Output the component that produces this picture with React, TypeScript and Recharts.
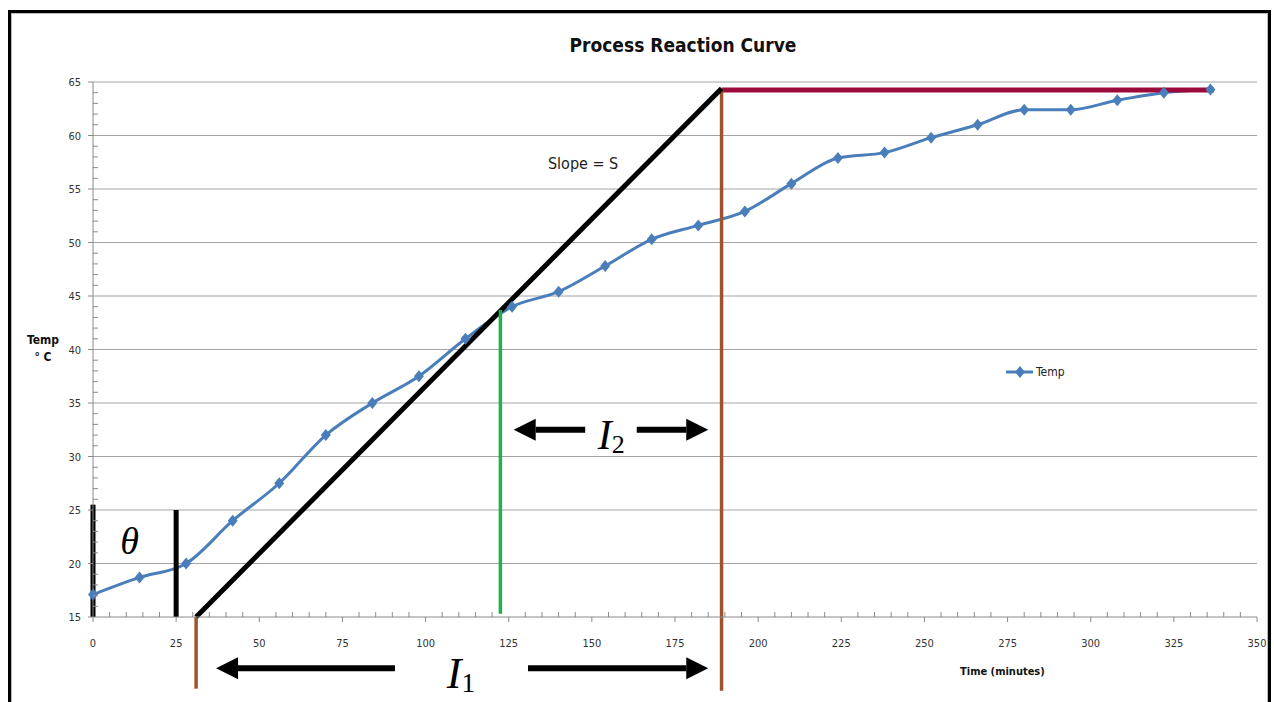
import React from "react";
import { LineChart, Line, XAxis, YAxis, ReferenceLine, ReferenceDot, Legend } from "recharts";

// Measured temperatures, one sample every 14 minutes
const TIMES = [0, 14, 28, 42, 56, 70, 84, 98, 112, 126, 140, 154, 168, 182, 196, 210, 224, 238, 252, 266, 280, 294, 308, 322, 336];
const TEMPS = [17.1, 18.7, 20.0, 24.0, 27.5, 32.0, 35.0, 37.5, 41.0, 44.0, 45.4, 47.8, 50.3, 51.6, 52.9, 55.5, 57.9, 58.4, 59.8, 61.0, 62.4, 62.4, 63.3, 64.0, 64.3];

const X_TICKS = Array.from({ length: 71 }, (_, i) => i * 5);
const Y_TICKS = Array.from({ length: 51 }, (_, i) => 15 + i);
const GRID_VALUES = [20, 25, 30, 35, 40, 45, 50, 55, 60, 65];

// Hand-drawn annotations, in data units
const TANGENT = [{ x: 31, y: 15 }, { x: 189, y: 64.4 }];
const STEADY = [{ x: 189, y: 64.25 }, { x: 337, y: 64.25 }];
const DEAD_MARKS = [
  [{ x: 0, y: 15 }, { x: 0, y: 25.5 }],
  [{ x: 25, y: 15 }, { x: 25, y: 25 }],
];
const BROWN_MARKS = [
  [{ x: 31, y: 15 }, { x: 31, y: 8.3 }],
  [{ x: 189, y: 64.4 }, { x: 189, y: 8.1 }],
];
const GREEN_MARK = [{ x: 122.5, y: 15.3 }, { x: 122.5, y: 43.7 }];
const ARROWS = [
  [{ x: 148, y: 32.5 }, { x: 126.5, y: 32.5 }],
  [{ x: 163.5, y: 32.5 }, { x: 185, y: 32.5 }],
  [{ x: 90.8, y: 10.2 }, { x: 37, y: 10.2 }],
  [{ x: 130.8, y: 10.2 }, { x: 185, y: 10.2 }],
];
const THETA_AT = { x: 8.2, y: 20.9 };
const SLOPE_AT = { x: 136.8, y: 56.9 };
const I1_AT = { x: 106.4, y: 8.4 };
const I2_AT = { x: 151.8, y: 30.7 };

const data = TIMES.map((t, i) => ({ time: t, temp: TEMPS[i] }));

const BLUE = "#4a7ebb";
const AXIS = "#8a8a8a";
const NARROW = "'Liberation Sans Narrow', 'DejaVu Sans Condensed', 'Liberation Sans', sans-serif";
const MATH = "'Liberation Serif', 'DejaVu Serif', serif";

const diamond = (cx: number, cy: number) =>
  `M${cx},${cy - 6}L${cx + 5},${cy}L${cx},${cy + 6}L${cx - 5},${cy}Z`;

const Dot = (props: any) => {
  const { cx, cy, index } = props;
  if (cx == null || cy == null) return null;
  return <path key={index} d={diamond(cx, cy)} fill={BLUE} />;
};

const XTick = (props: any) => {
  const { x, y, payload } = props;
  const v = payload.value;
  if (v % 25 !== 0) return <line x1={x} y1={y - 5} x2={x} y2={y} stroke={AXIS} />;
  return (
    <g>
      <line x1={x} y1={y} x2={x} y2={y + 5} stroke={AXIS} />
      <text x={x} y={y + 30} textAnchor="middle" fontSize={11} fill="#333" fontFamily={NARROW}>
        {v}
      </text>
    </g>
  );
};

const YTick = (props: any) => {
  const { x, y, payload } = props;
  const v = payload.value;
  if (v % 5 !== 0) return <line x1={x} y1={y} x2={x + 5} y2={y} stroke={AXIS} />;
  return (
    <g>
      <line x1={x - 5} y1={y} x2={x} y2={y} stroke={AXIS} />
      <text x={x - 12} y={y + 4} textAnchor="end" fontSize={11} fill="#333" fontFamily={NARROW}>
        {v}
      </text>
    </g>
  );
};

const Arrow = (props: any) => {
  const { x1, y1, x2, y2 } = props;
  const dir = x2 > x1 ? 1 : -1;
  const head = 22;
  return (
    <g>
      <line x1={x1} y1={y1} x2={x2 - dir * head} y2={y2} stroke="#000" strokeWidth={6} />
      <path d={`M${x2},${y2}L${x2 - dir * head},${y2 - 11}L${x2 - dir * head},${y2 + 11}Z`} fill="#000" />
    </g>
  );
};

const MathLabel = (text: string, sub?: string, size = 42) => (props: any) => (
  <text x={props.cx} y={props.cy} fontFamily={MATH} fontSize={size} fill="#000">
    <tspan fontStyle="italic">{text}</tspan>
    {sub && (
      <tspan fontSize={size * 0.62} dy={4}>
        {sub}
      </tspan>
    )}
  </text>
);

const LegendBox = () => (
  <div style={{ display: "flex", alignItems: "center", fontSize: 12, fontFamily: NARROW, color: "#222" }}>
    <svg width={28} height={14}>
      <line x1={0} y1={7} x2={27} y2={7} stroke={BLUE} strokeWidth={3} />
      <path d={diamond(14, 7)} fill={BLUE} />
    </svg>
    <span style={{ marginLeft: 2 }}>Temp</span>
  </div>
);

export default function App() {
  return (
    <div style={{ position: "absolute", left: 0, top: 0, width: 1274, height: 702, background: "#fff", overflow: "hidden" }}>
      <div
        style={{
          position: "absolute", left: 8, top: 10, width: 1257, height: 700,
          borderTop: "3px solid #000", borderLeft: "3px solid #000", borderRight: "3px solid #000",
          boxShadow: "inset 1px 1px 0 #bbb, inset -1px 0 0 #bbb",
        }}
      />
      <div
        style={{
          position: "absolute", left: 0, width: 1366, top: 34, textAlign: "center",
          fontFamily: NARROW, fontWeight: "bold", fontSize: 19, color: "#111",
        }}
      >
        Process Reaction Curve
      </div>
      <div
        style={{
          position: "absolute", left: 23, top: 332, width: 40, textAlign: "center",
          fontFamily: NARROW, fontWeight: "bold", fontSize: 12, lineHeight: "17px", color: "#111",
        }}
      >
        Temp
        <br />° C
      </div>
      <div
        style={{
          position: "absolute", left: 960, top: 665, fontFamily: NARROW, fontWeight: "bold", fontSize: 11, color: "#111",
        }}
      >
        Time (minutes)
      </div>

      <LineChart width={1274} height={702} data={data} margin={{ top: 82, right: 17, bottom: 55, left: 33 }}>
        <XAxis
          dataKey="time"
          type="number"
          domain={[0, 350]}
          ticks={X_TICKS}
          interval={0}
          tick={<XTick />}
          tickLine={false}
          tickSize={0}
          tickMargin={0}
          height={30}
          stroke={AXIS}
        />
        <YAxis
          type="number"
          domain={[15, 65]}
          ticks={Y_TICKS}
          interval={0}
          tick={<YTick />}
          tickLine={false}
          tickSize={0}
          tickMargin={0}
          width={60}
          stroke={AXIS}
        />
        {GRID_VALUES.map((v) => (
          <ReferenceLine key={v} y={v} stroke="#a3a3a3" strokeWidth={1.2} />
        ))}
        <Legend
          layout="horizontal"
          verticalAlign="middle"
          align="center"
          content={<LegendBox />}
          wrapperStyle={{ left: 1006, top: 365, width: "auto" }}
        />
        <Line
          type="monotone"
          dataKey="temp"
          name="Temp"
          stroke={BLUE}
          strokeWidth={3}
          dot={<Dot />}
          activeDot={false}
          isAnimationActive={false}
        />
        <ReferenceLine segment={STEADY} stroke="#9c0a3c" strokeWidth={5} ifOverflow="visible" />
        {BROWN_MARKS.map((s, i) => (
          <ReferenceLine key={"b" + i} segment={s} stroke="#a0522d" strokeWidth={3.5} ifOverflow="visible" />
        ))}
        <ReferenceLine segment={TANGENT} stroke="#000" strokeWidth={5} ifOverflow="visible" />
        <ReferenceLine segment={GREEN_MARK} stroke="#22b14c" strokeWidth={3.5} ifOverflow="visible" />
        {DEAD_MARKS.map((s, i) => (
          <ReferenceLine key={"d" + i} segment={s} stroke="#000" strokeWidth={5} ifOverflow="visible" />
        ))}
        {ARROWS.map((s, i) => (
          <ReferenceLine key={"a" + i} segment={s} shape={<Arrow />} ifOverflow="visible" />
        ))}
        <ReferenceDot x={THETA_AT.x} y={THETA_AT.y} r={0} ifOverflow="visible" shape={MathLabel("θ", undefined, 38)} />
        <ReferenceDot
          x={SLOPE_AT.x}
          y={SLOPE_AT.y}
          r={0}
          ifOverflow="visible"
          shape={(p: any) => (
            <text x={p.cx} y={p.cy} fontSize={16} fontFamily={NARROW} fill="#222">
              Slope = S
            </text>
          )}
        />
        <ReferenceDot x={I1_AT.x} y={I1_AT.y} r={0} ifOverflow="visible" shape={MathLabel("I", "1", 44)} />
        <ReferenceDot x={I2_AT.x} y={I2_AT.y} r={0} ifOverflow="visible" shape={MathLabel("I", "2", 42)} />
      </LineChart>
    </div>
  );
}
